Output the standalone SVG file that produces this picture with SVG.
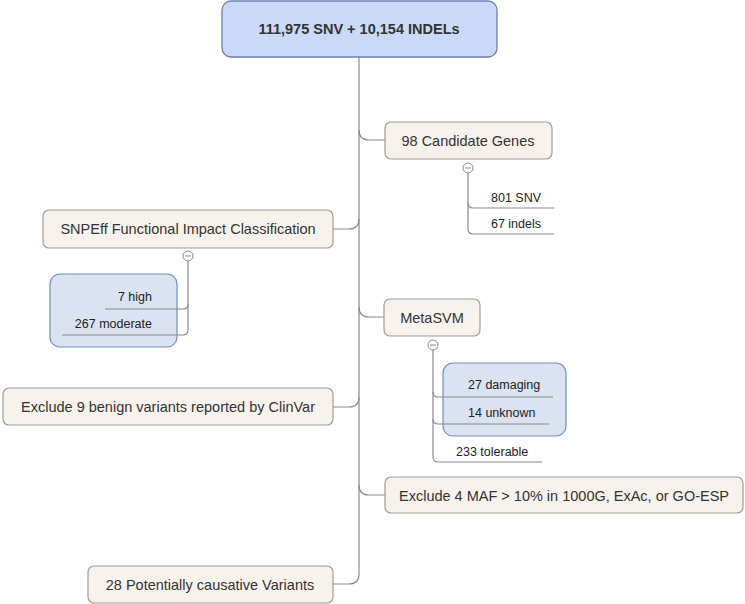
<svg xmlns="http://www.w3.org/2000/svg" width="745" height="604" viewBox="0 0 745 604">
<style>
.node rect{fill:#f8f2ec;stroke:#a29c96;stroke-width:1.2}
.node text{font-family:"Liberation Sans",Arial,sans-serif;font-size:14.5px;fill:#333;text-anchor:middle}
.root rect{fill:#c9d9f8;stroke:#6e80ac;stroke-width:1.3}
.root text{font-weight:bold}
.grp{fill:#dbe3f0;stroke:#6f90c6;stroke-width:1.2}
.conn path{fill:none;stroke:#8a8a8a;stroke-width:1.2}
.leaf text{font-family:"Liberation Sans",Arial,sans-serif;font-size:12.5px;fill:#222}
.tog circle{fill:#fff;stroke:#8a8a8a;stroke-width:1}
.tog path{stroke:#8a8a8a;stroke-width:1}
</style>
<rect width="745" height="604" fill="#fff"/>
<rect class="grp" x="50" y="274" width="127" height="73" rx="10"/>
<rect class="grp" x="443" y="363" width="123" height="73" rx="10"/>
<g class="conn">
<path d="M359,57 V574 Q359,584 349,584 H333"/>
<path d="M359,130 Q359,140 369,140 H385"/>
<path d="M359,219 Q359,229 349,229 H333"/>
<path d="M359,307 Q359,317 369,317 H384"/>
<path d="M359,397 Q359,407 349,407 H333"/>
<path d="M359,485 Q359,495 369,495 H385"/>
<path d="M468,173 V229 Q468,234 473,234 H554"/>
<path d="M468,203 Q468,208 473,208 H554"/>
<path d="M188,261 V330 Q188,335 183,335 H62"/>
<path d="M188,304 Q188,309 183,309 H105"/>
<path d="M433,350 V457 Q433,462 438,462 H542"/>
<path d="M433,392 Q433,397 438,397 H553"/>
<path d="M433,419 Q433,424 438,424 H549"/>
</g>
<g id="root" class="node root"><rect x="222" y="1" width="275" height="56" rx="9"/><text x="359" y="34">111,975 SNV + 10,154 INDELs</text></g>
<g id="candidate" class="node"><rect x="385" y="122" width="167" height="37" rx="6"/><text x="468" y="146">98 Candidate Genes</text></g>
<g id="snpeff" class="node"><rect x="43" y="210" width="290" height="38" rx="6"/><text x="188" y="234">SNPEff Functional Impact Classification</text></g>
<g id="metasvm" class="node"><rect x="384" y="299" width="96" height="37" rx="6"/><text x="432" y="323">MetaSVM</text></g>
<g id="clinvar" class="node"><rect x="3" y="388" width="330" height="37" rx="6"/><text x="168" y="412">Exclude 9 benign variants reported by ClinVar</text></g>
<g id="maf" class="node"><rect x="385" y="477" width="358" height="36" rx="6"/><text x="564" y="501">Exclude 4 MAF &gt; 10% in 1000G, ExAc, or GO-ESP</text></g>
<g id="causative" class="node"><rect x="88" y="566" width="245" height="37" rx="6"/><text x="210" y="590">28 Potentially causative Variants</text></g>
<g class="tog"><circle cx="468" cy="168" r="5"/><path d="M465,168 H471"/></g>
<g class="tog"><circle cx="188" cy="256" r="5"/><path d="M185,256 H191"/></g>
<g class="tog"><circle cx="433" cy="345" r="5"/><path d="M430,345 H436"/></g>
<g id="snv801" class="leaf"><text x="516" y="202" text-anchor="middle">801 SNV</text></g>
<g id="indels67" class="leaf"><text x="516" y="228" text-anchor="middle">67 indels</text></g>
<g id="high7" class="leaf"><text x="152" y="301" text-anchor="end">7 high</text></g>
<g id="moderate267" class="leaf"><text x="152" y="328" text-anchor="end">267 moderate</text></g>
<g id="damaging27" class="leaf"><text x="468" y="389">27 damaging</text></g>
<g id="unknown14" class="leaf"><text x="468" y="417">14 unknown</text></g>
<g id="tolerable233" class="leaf"><text x="456" y="456">233 tolerable</text></g>
</svg>
